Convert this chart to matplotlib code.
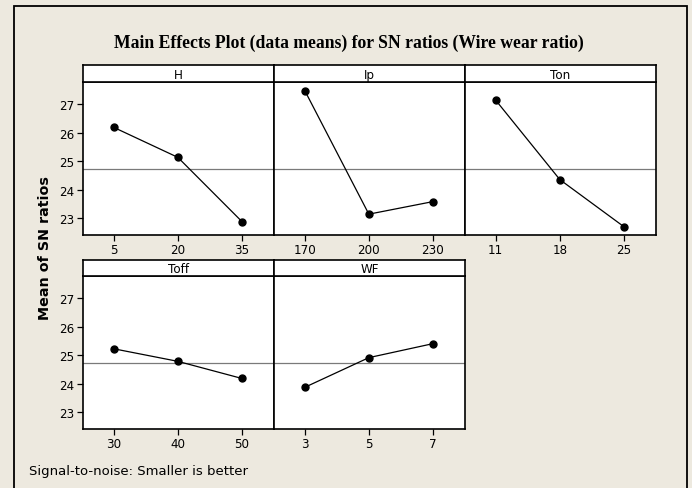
import matplotlib
matplotlib.use("Agg")
import matplotlib.pyplot as plt
from matplotlib.patches import Rectangle

# ---- data ----
factors = ["H", "Ip", "Ton", "Toff", "WF"]
levels_H = ["5", "20", "35"]
levels_Ip = ["170", "200", "230"]
levels_Ton = ["11", "18", "25"]
levels_Toff = ["30", "40", "50"]
levels_WF = ["3", "5", "7"]
sn_H = [26.19, 25.14, 22.89]
sn_Ip = [27.48, 23.15, 23.59]
sn_Ton = [27.14, 24.36, 22.71]
sn_Toff = [25.23, 24.79, 24.19]
sn_WF = [23.88, 24.92, 25.41]
overall_mean = 24.73
y_ticks = [23, 24, 25, 26, 27]

levels = [levels_H, levels_Ip, levels_Ton, levels_Toff, levels_WF]
values = [sn_H, sn_Ip, sn_Ton, sn_Toff, sn_WF]

W, H = 692, 489
BG = "#EDE9DF"
fig = plt.figure(figsize=(W / 100, H / 100), dpi=100, facecolor=BG)

# outer frame
fig.patches.append(Rectangle((14 / W, -0.05), (687 - 14) / W, 1.05 - 7 / H,
                             transform=fig.transFigure, fill=False,
                             edgecolor="black", linewidth=1.3))

def fx(x):
    return x / W

def fy(y):
    return 1 - y / H

col_x = [83, 274, 465]
pw = 191
rows = [(66, 83, 236), (261, 277, 430)]  # strip top, plot top, plot bottom

tick_font = dict(family="DejaVu Sans", size=8.6)

for i, (name, lv, vals) in enumerate(zip(factors, levels, values)):
    r, c = divmod(i, 3)
    st, pt, pb = rows[r]
    x0 = col_x[c]
    ax = fig.add_axes([fx(x0), fy(pb), pw / W, (pb - pt) / H])
    ax.set_facecolor("white")
    xs = list(range(len(lv)))
    ax.axhline(overall_mean, color="#7a7a7a", linewidth=0.9, zorder=1)
    ax.plot(xs, vals, color="black", linewidth=0.9, marker="o",
            markersize=5, zorder=3)
    ax.set_xlim(-0.48, 2.5)
    ax.set_ylim(22.42, 27.78)
    ax.set_xticks(xs)
    ax.set_xticklabels(lv, **tick_font)
    ax.set_yticks(y_ticks)
    if c == 0:
        ax.set_yticklabels([str(t) for t in y_ticks], **tick_font)
        ax.tick_params(axis="y", length=4, width=0.9, pad=2)
    else:
        ax.tick_params(axis="y", length=0, labelleft=False)
    ax.tick_params(axis="x", length=4, width=0.9, pad=2)
    for s in ax.spines.values():
        s.set_linewidth(1.2)
        s.set_color("black")
    # strip
    sax = fig.add_axes([fx(x0), fy(pt), pw / W, (pt - st) / H])
    sax.set_facecolor("white")
    sax.set_xticks([])
    sax.set_yticks([])
    for s in sax.spines.values():
        s.set_linewidth(1.2)
        s.set_color("black")
    sax.text(0.5, 0.45, name, ha="center", va="center",
             transform=sax.transAxes, family="DejaVu Sans", size=8.6)

fig.text(fx(349), fy(43), "Main Effects Plot (data means) for SN ratios (Wire wear ratio)",
         ha="center", va="center", family="Liberation Serif", weight="bold",
         size=12.7)
fig.text(fx(45), fy(248), "Mean of SN ratios", ha="center", va="center",
         rotation=90, family="DejaVu Sans", weight="bold", size=10.3)
fig.text(fx(29), fy(472), "Signal-to-noise: Smaller is better", ha="left",
         va="center", family="DejaVu Sans", size=9.5)

fig.savefig("out.png", dpi=100, facecolor=BG)
